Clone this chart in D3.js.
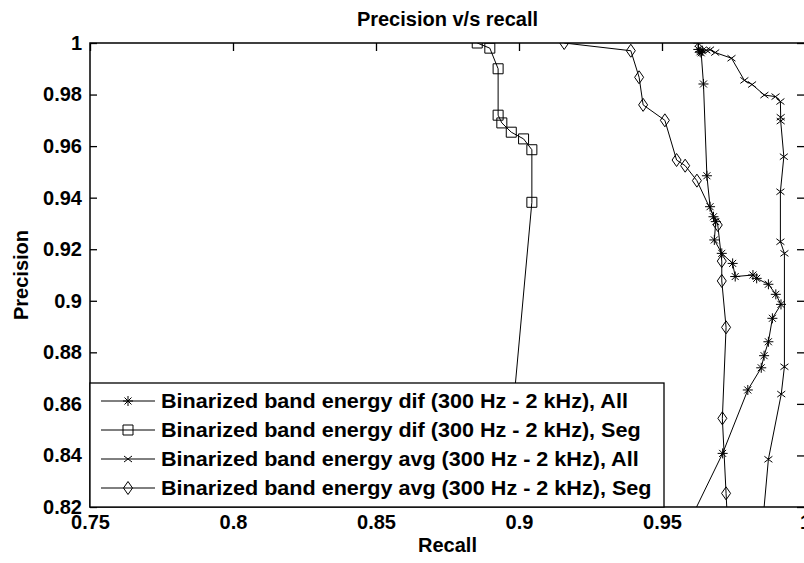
<!DOCTYPE html>
<html>
<head>
<meta charset="utf-8">
<script src="https://cdn.jsdelivr.net/npm/d3@7"></script>
<style>
  body { margin: 0; background: #fff; }
  text { font-family: "Liberation Sans", Arial, sans-serif; font-weight: bold; fill: #000; }
</style>
</head>
<body>
<div id="pr_plot"></div>
<script>
// values (recall, precision)
var recallDifAll = [0.9627, 0.9627, 0.9633, 0.9641, 0.9637, 0.9645, 0.9657, 0.9668, 0.9680, 0.9688, 0.9683, 0.9709, 0.9747, 0.9756, 0.9818, 0.9831, 0.9872, 0.9898, 0.9916, 0.9886, 0.9872, 0.9857, 0.9847, 0.9800, 0.9712, 0.9577];
var precisionDifAll = [1.0, 0.9975, 0.9966, 0.9970, 0.9962, 0.9841, 0.9485, 0.9365, 0.9326, 0.9307, 0.9236, 0.9184, 0.9145, 0.9094, 0.9100, 0.9087, 0.9064, 0.9025, 0.8986, 0.8932, 0.8841, 0.8787, 0.8740, 0.8654, 0.8408, 0.8100];

var recallDifSeg = [0.8854, 0.8898, 0.8927, 0.8927, 0.8940, 0.8973, 0.9016, 0.9045, 0.9045, 0.8940];
var precisionDifSeg = [1.0, 0.9980, 0.9900, 0.9720, 0.9690, 0.9654, 0.9628, 0.9586, 0.9382, 0.8100];

var recallAvgAll = [0.9655, 0.9668, 0.9686, 0.9743, 0.9788, 0.9815, 0.9858, 0.9897, 0.9914, 0.9915, 0.9915, 0.9926, 0.9914, 0.9914, 0.9928, 0.9928, 0.9917, 0.9872, 0.9849];
var precisionAvgAll = [0.9972, 0.9974, 0.9963, 0.9941, 0.9855, 0.9839, 0.9798, 0.9792, 0.9773, 0.9712, 0.9697, 0.9559, 0.9423, 0.9229, 0.9184, 0.8744, 0.8638, 0.8385, 0.8100];

var recallAvgSeg = [0.9158, 0.9391, 0.9420, 0.9434, 0.9510, 0.9551, 0.9581, 0.9622, 0.9695, 0.9709, 0.9709, 0.9724, 0.9711, 0.9724, 0.9731];
var precisionAvgSeg = [1.0, 0.9970, 0.9867, 0.9760, 0.9700, 0.9546, 0.9524, 0.9466, 0.9294, 0.9154, 0.9077, 0.8897, 0.8544, 0.8253, 0.8100];

var seriesNames = [
  "Binarized band energy dif (300 Hz - 2 kHz), All",
  "Binarized band energy dif (300 Hz - 2 kHz), Seg",
  "Binarized band energy avg (300 Hz - 2 kHz), All",
  "Binarized band energy avg (300 Hz - 2 kHz), Seg"
];
var seriesMarkers = ["star", "square", "cross", "diamond"];

var xTicks = [0.75, 0.8, 0.85, 0.9, 0.95, 1];
var xTickLabels = ["0.75", "0.8", "0.85", "0.9", "0.95", "1"];
var yTicks = [0.82, 0.84, 0.86, 0.88, 0.9, 0.92, 0.94, 0.96, 0.98, 1];
var yTickLabels = ["0.82", "0.84", "0.86", "0.88", "0.9", "0.92", "0.94", "0.96", "0.98", "1"];

// set the dimensions and margins of the graph
var margin = {top: 43, right: 0, bottom: 56, left: 90},
    width = 715,
    height = 464;

var svg = d3.select("#pr_plot")
  .append("svg")
    .attr("width", 804)
    .attr("height", 563)
  .append("g")
    .attr("transform", "translate(" + margin.left + "," + margin.top + ")");

var x = d3.scaleLinear().domain([0.75, 1]).range([0, width]);
var y = d3.scaleLinear().domain([0.82, 1]).range([height, 0]);

// axes, matlab style: ticks inward on all four sides
function styleAxis(g) {
  g.select(".domain").remove();
  g.selectAll(".tick line").attr("stroke", "#000").attr("stroke-width", 1.3);
  g.selectAll(".tick text").style("font-size", "20px");
}
svg.append("g")
    .attr("transform", "translate(0," + height + ")")
    .call(d3.axisBottom(x).tickValues(xTicks).tickFormat(function(d, i) { return xTickLabels[i]; })
      .tickSizeInner(-8).tickSizeOuter(0).tickPadding(8))
    .call(styleAxis);
svg.append("g")
    .call(d3.axisTop(x).tickValues(xTicks).tickFormat("")
      .tickSizeInner(-8).tickSizeOuter(0))
    .call(styleAxis);
svg.append("g")
    .call(d3.axisLeft(y).tickValues(yTicks).tickFormat(function(d, i) { return yTickLabels[i]; })
      .tickSizeInner(-7).tickSizeOuter(0).tickPadding(8))
    .call(styleAxis);
svg.append("g")
    .attr("transform", "translate(" + width + ",0)")
    .call(d3.axisRight(y).tickValues(yTicks).tickFormat("")
      .tickSizeInner(-8).tickSizeOuter(0))
    .call(styleAxis);

svg.append("rect")
    .attr("width", width)
    .attr("height", height)
    .attr("fill", "none")
    .attr("stroke", "#000")
    .attr("stroke-width", 1.5);

// marker shapes
function markerPath(type, s) {
  if (type == "square") return "M-5,-5H5V5H-5Z";
  if (type == "diamond") return "M0,-6.5L4.5,0L0,6.5L-4.5,0Z";
  if (type == "cross") return "M-4,-3L4,3M-4,3L4,-3";
  // star = plus + x
  return "M0,-5V5M-5,0H5M-3.5,-3.5L3.5,3.5M-3.5,3.5L3.5,-3.5";
}

svg.append("clipPath")
    .attr("id", "clip")
  .append("rect")
    .attr("width", width)
    .attr("height", height);

var plotArea = svg.append("g").attr("clip-path", "url(#clip)");

var allSeries = [
  d3.zip(recallDifAll, precisionDifAll),
  d3.zip(recallDifSeg, precisionDifSeg),
  d3.zip(recallAvgAll, precisionAvgAll),
  d3.zip(recallAvgSeg, precisionAvgSeg)
];

var line = d3.line()
  .x(function(d) { return x(d[0]); })
  .y(function(d) { return y(d[1]); });

allSeries.forEach(function(points, i) {
  plotArea.append("path")
      .datum(points)
      .attr("fill", "none")
      .attr("stroke", "#000")
      .attr("stroke-width", 1)
      .attr("d", line);
  plotArea.selectAll(".m" + i)
      .data(points)
    .enter().append("path")
      .attr("class", "m" + i)
      .attr("transform", function(d) { return "translate(" + x(d[0]) + "," + y(d[1]) + ")"; })
      .attr("d", markerPath(seriesMarkers[i]))
      .attr("fill", "none")
      .attr("stroke", "#000")
      .attr("stroke-width", 1);
});

// legend box in the lower left corner
var legend = svg.append("g").attr("transform", "translate(0,340)");
legend.append("rect")
    .attr("width", 574)
    .attr("height", height - 340)
    .attr("fill", "#fff")
    .attr("stroke", "#000")
    .attr("stroke-width", 1.3);
seriesNames.forEach(function(name, i) {
  var row = legend.append("g").attr("transform", "translate(0," + (18 + i * 29) + ")");
  row.append("line")
      .attr("x1", 11).attr("x2", 65)
      .attr("stroke", "#000").attr("stroke-width", 1);
  row.append("path")
      .attr("transform", "translate(38,0)")
      .attr("d", markerPath(seriesMarkers[i]))
      .attr("fill", "none")
      .attr("stroke", "#000");
  // the legend text is a little wider in the original
  row.append("text")
      .attr("transform", "translate(71,0) scale(1.08,1)")
      .attr("dy", "0.35em")
      .style("font-size", "20px")
      .text(name);
});

// title and axis labels
svg.append("text")
    .attr("x", width / 2)
    .attr("y", -17)
    .attr("text-anchor", "middle")
    .style("font-size", "20px")
    .text("Precision v/s recall");
svg.append("text")
    .attr("x", width / 2)
    .attr("y", height + 45)
    .attr("text-anchor", "middle")
    .style("font-size", "20px")
    .text("Recall");
svg.append("text")
    .attr("transform", "rotate(-90)")
    .attr("x", -232)
    .attr("y", -62)
    .attr("text-anchor", "middle")
    .style("font-size", "20px")
    .text("Precision");
</script>
</body>
</html>
